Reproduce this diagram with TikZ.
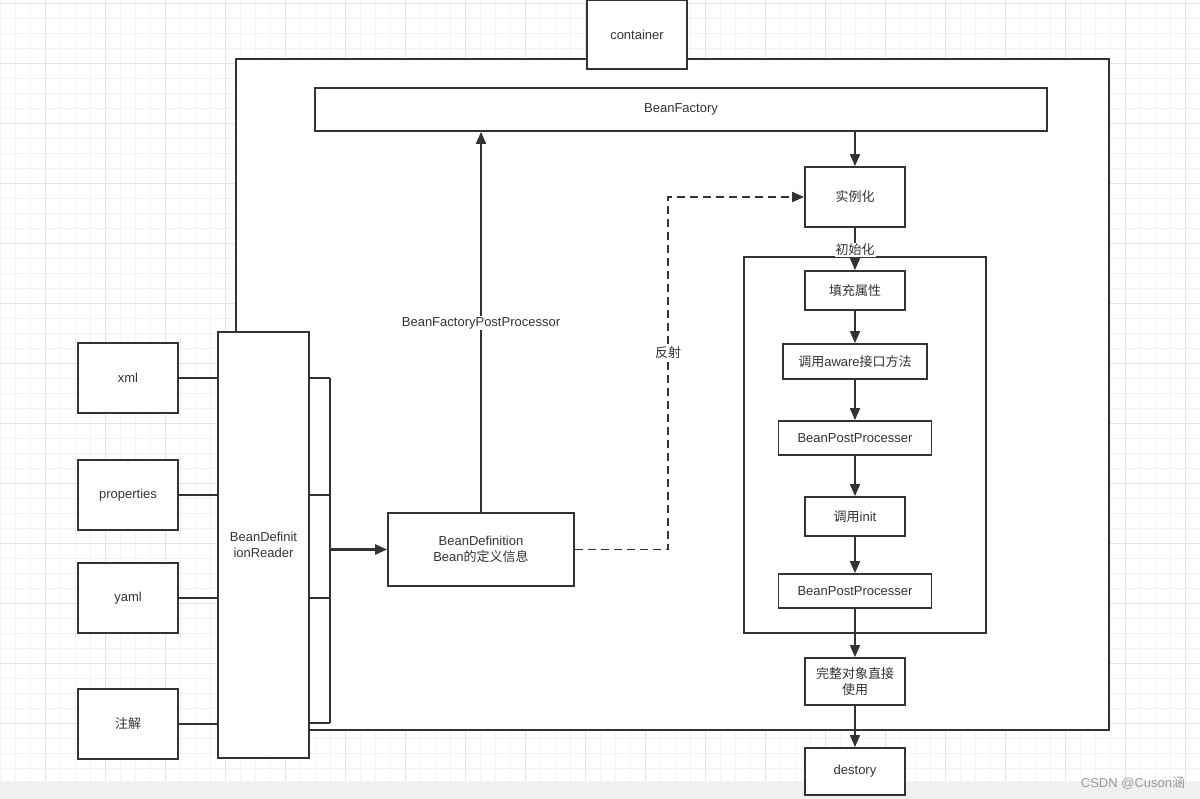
\documentclass[tikz,border=0pt]{standalone}
\usepackage{fontspec}
\setmainfont{Liberation Sans}
\newfontfamily\cjk{Noto Sans CJK SC}
\usetikzlibrary{arrows.meta}
\definecolor{ink}{HTML}{333333}
\definecolor{gridminor}{HTML}{F3F3F3}
\definecolor{gridmajor}{HTML}{E4E4E4}
\definecolor{stripc}{HTML}{F0F0F0}
\definecolor{wm}{HTML}{9A9A9A}
\begin{document}
\begin{tikzpicture}[x=1pt,y=-1pt,
  box/.style={draw=ink, line width=1.8pt, fill=white, text=ink, inner sep=0pt,
    font=\fontsize{13}{16.5}\selectfont, align=center},
  arr/.style={draw=ink, line width=1.8pt, -{Triangle[length=12pt,width=10pt]}},
  dasharr/.style={arr, dash pattern=on 8pt off 5pt},
  ln/.style={draw=ink, line width=1.8pt},
  lbl/.style={text=ink, fill=white, inner sep=1.5pt, font=\fontsize{13}{16.5}\selectfont}]
\useasboundingbox (0,0) rectangle (1200,799);
\clip (0,0) rectangle (1200,799);
\fill[white] (0,0) rectangle (1200,799);
% grid
\foreach \x in {0,15,...,1200} \draw[gridminor, line width=0.8pt] (\x,0) -- (\x,781);
\foreach \y in {3,18,...,781} \draw[gridminor, line width=0.8pt] (0,\y) -- (1200,\y);
\foreach \x in {45,105,...,1200} \draw[gridmajor, line width=0.9pt] (\x,0) -- (\x,781);
\foreach \y in {3,63,...,781} \draw[gridmajor, line width=0.9pt] (0,\y) -- (1200,\y);
\fill[stripc] (0,781) rectangle (1200,799);
\node[text=wm, font=\fontsize{13}{15}\selectfont] (wmark) at (1133,783) {CSDN @Cuson{\cjk 涵}};

% container frame
\draw[ln, fill=white] (236,59) rectangle (1109,730);
\node[box, minimum width=100pt, minimum height=69pt] (container) at (637,34.5) {container};

% inner init frame
\draw[ln] (744,257) rectangle (986,633);

% main nodes
\node[box, minimum width=732pt, minimum height=43pt] (bf) at (681,109.5) {BeanFactory};
\node[box, minimum width=100pt, minimum height=60pt] (inst) at (855,197) {\cjk 实例化};
\node[box, minimum width=100pt, minimum height=39pt] (fill) at (855,290.5) {\cjk 填充属性};
\node[box, minimum width=144pt, minimum height=35pt] (aware) at (855,361.5) {{\cjk 调用}aware{\cjk 接口方法}};
\node[box, minimum width=153pt, minimum height=34pt] (bpp1) at (855,438) {BeanPostProcesser};
\node[box, minimum width=100pt, minimum height=39pt] (init) at (855,516.5) {{\cjk 调用}init};
\node[box, minimum width=153pt, minimum height=34pt] (bpp2) at (855,591) {BeanPostProcesser};
\node[box, minimum width=100pt, minimum height=47pt] (full) at (855,681.5) {\cjk 完整对象直接\\\cjk 使用};
\node[box, minimum width=100pt, minimum height=47pt] (destroy) at (855,771.5) {destory};
\node[box, minimum width=186pt, minimum height=73pt] (bd) at (481,549.5) {BeanDefinition\\Bean{\cjk 的定义信息}};

\node[box, minimum width=100pt, minimum height=70pt] (xml) at (128,378) {xml};
\node[box, minimum width=100pt, minimum height=70pt] (props) at (128,495) {properties};
\node[box, minimum width=100pt, minimum height=70pt] (yaml) at (128,598) {yaml};
\node[box, minimum width=100pt, minimum height=70pt] (anno) at (128,724) {\cjk 注解};

% bus coordinates
\coordinate (busT) at (330,378);
\coordinate (busB) at (330,723);

\draw[ln] (busT) -- (busB);
\node[box, minimum width=91pt, minimum height=426pt] (reader) at (263.5,545) {BeanDefinit\\ionReader};

% source connectors
\draw[ln] (xml.east) -- (reader.west |- xml.east);
\draw[ln] (props.east) -- (reader.west |- props.east);
\draw[ln] (yaml.east) -- (reader.west |- yaml.east);
\draw[ln] (anno.east) -- (reader.west |- anno.east);
% bus connectors
\draw[ln] (reader.east |- busT) -- (busT);
\draw[ln] (reader.east |- props.east) -- (busT |- props.east);
\draw[ln] (reader.east |- yaml.east) -- (busT |- yaml.east);
\draw[ln] (reader.east |- busB) -- (busB);
\draw[arr, line width=2.4pt] (busT |- bd.west) -- (bd.west);

% BeanDefinition -> BeanFactory
\draw[arr] (bd.north) -- (bd.north |- bf.south);
\node[lbl] (bfpp) at (481,323) {BeanFactoryPostProcessor};

% reflection dashed
\coordinate (refB) at (668,549.5);
\coordinate (refT) at (668,197);
\draw[dasharr] (bd.east) -- (refB) -- (refT) -- (inst.west);
\node[lbl] (refl) at (668,353) {\cjk 反射};

% flow
\draw[arr] (bf.south -| inst.north) -- (inst.north);
\draw[arr] (inst.south) -- (fill.north);
\node[lbl, inner sep=1pt] (initlbl) at (855,250) {\cjk 初始化};
\draw[arr] (fill.south) -- (aware.north);
\draw[arr] (aware.south) -- (bpp1.north);
\draw[arr] (bpp1.south) -- (init.north);
\draw[arr] (init.south) -- (bpp2.north);
\draw[arr] (bpp2.south) -- (full.north);
\draw[arr] (full.south) -- (destroy.north);
\end{tikzpicture}
\end{document}
